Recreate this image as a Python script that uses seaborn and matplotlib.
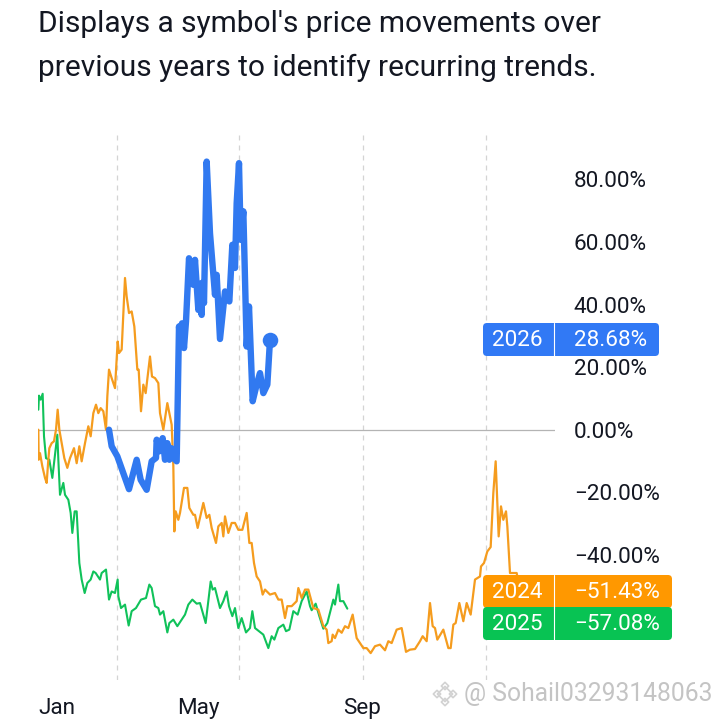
import matplotlib
matplotlib.use("Agg")
import matplotlib.pyplot as plt
import seaborn as sns
from matplotlib.patches import FancyBboxPatch

# values: x = day of the year, y = % change
days_2024 = [0.25, 0.5, 1.5, 3.25, 5.25, 6.5, 7.75, 8.5, 10.25, 12, 13.5, 14.75, 16, 17.75, 19.75, 22, 24, 27, 29, 31,
             32.75, 35.25, 37.75, 39.5, 41.5, 43.5, 45.25, 47, 49, 51, 52, 53.25, 55.25, 57.75, 59.75, 60.75, 62.75,
             65.25, 66.5, 68.25, 70.25, 72.25, 74.5, 75.5, 77.25, 79, 80.75, 84, 85.5, 87.75, 90.25, 91.5, 94, 97,
             100.25, 101.5, 102.25, 103.25, 105.25, 106.5, 109.5, 112, 113.5, 116.5, 117.75, 119.75, 124, 126.5,
             128.5, 130.25, 133.5, 135.25, 137.75, 139, 140.25, 142.75, 145.25, 147.75, 150.25, 153.25, 156.5, 158.5,
             160.25, 162, 164, 166.5, 168.5, 170.25, 174, 177.75, 180.25, 182.75, 185.25, 187, 190.25, 194, 195.25,
             197.75, 200.25, 202.75, 206.5, 210.25, 214, 216.5, 217.75, 220.25, 221, 222.75, 225.25, 227.75, 230.25,
             232.75, 236, 239, 244, 246.5, 249.5, 252.75, 256.5, 260.25, 262.75, 265.25, 269, 272.75, 276, 279,
             282.75, 286.5, 288.5, 291.5, 294, 296, 297.75, 299.5, 304, 307.75, 309.5, 311.5, 313.25, 316, 319, 321.5,
             324.5, 327.75, 331.5, 332.25, 334.5, 337, 339.5, 341.5, 343.25, 345.5, 347.25, 349, 351, 352, 354, 359,
             361.5]
pct_2024 = [0, -9.6, -7.5, -11.7, -15.4, -17, -9.6, -5.9, -4.3, -3.7, 0, 6.4, 0, -4.3, -9.1, -12.2, -9.1, -5.9, -10.7,
            -5.3, -10.1, -4.3, 1.1, -2.1, 5.3, 8, 5.3, 6.9, 5.9, 0, 10.7, 19.2, 16.5, 13.3, 28.2, 24.5, 25.6, 48.5,
            42.6, 37.3, 37.8, 33, 19.2, 19.2, 5.9, 14.4, 11.7, 23.4, 17, 16.5, 14.9, 5.3, 0, 8.5, 1.6, -11.7, -32.5,
            -26.1, -28.8, -26.6, -18.6, -18.6, -25, -27.2, -27.2, -31.4, -23.4, -28.2, -27.2, -31.4, -36.2, -30.9,
            -29.8, -34.1, -27.7, -33, -29.8, -29.8, -32, -32, -26.6, -36.2, -36.2, -42.6, -46.9, -48.5, -52.7, -51.1,
            -52.7, -52.2, -54.3, -54.3, -60.2, -56.4, -56.4, -54.8, -50.6, -53.8, -51.1, -51.1, -57, -57.5, -62.8,
            -63.9, -68.2, -67.6, -65.5, -66.6, -63.9, -64.9, -62.8, -63.4, -59.1, -66.6, -69.8, -69.8, -71.4, -69.2,
            -68.7, -70.5, -67.6, -68.2, -63.9, -63.4, -71, -70.3, -70.1, -67.6, -66, -67.6, -55.4, -62.8, -63.4,
            -67.1, -63.9, -69.8, -69.8, -62.3, -61.8, -55.4, -61.2, -55.4, -59.1, -47.9, -46.9, -43.7, -42.6, -38.9,
            -37.5, -20.2, -10.1, -34.1, -24.5, -28.8, -26.1, -30.9, -45.8, -45.8, -51.43]

days_2025 = [0.25, 0.75, 2, 3.5, 4.5, 6, 8.5, 10.75, 12.75, 14.5, 15.25, 16.5, 19, 20.25, 22.75, 24.5, 25.75, 27.5, 29,
             31, 32.75, 35, 37, 39.5, 41.5, 43.25, 46.5, 47.75, 51, 53.25, 55.25, 57.75, 59.75, 60.25, 62.25, 65.25,
             68, 70.25, 73.5, 77.25, 81, 83.5, 85.25, 87.75, 90.25, 91.5, 94, 97, 98.5, 101.5, 104.5, 110.25, 112.75,
             115.75, 119, 121.5, 125.75, 129.5, 131, 132.75, 136.5, 139, 141.5, 143.25, 145.75, 147.75, 150.25,
             152.75, 156, 159, 160.75, 162.75, 169, 172.75, 175.25, 177.25, 180.25, 184, 186, 188.5, 191.5, 194.75,
             197.75, 201.5, 204, 205.25, 208.25, 211, 214, 217, 221.5, 222.75, 225.25, 226.5, 229, 232]
pct_2025 = [6.4, 10.9, 9.6, 11.5, -2.1, -9.1, -9.6, -15.4, -8, -1.6, -9.6, -20.8, -17, -20.8, -22.4, -26.6, -33, -26.1,
            -26.1, -42.6, -47.9, -52.2, -49, -47.9, -45.3, -45.8, -47.9, -45.8, -44.7, -54.3, -51.7, -52.2, -47.9,
            -53.2, -57, -55.9, -62.6, -58, -57, -54.3, -53.8, -49.5, -50.6, -56.4, -57, -59.1, -58, -64.8, -61.8,
            -60.7, -62.8, -59.1, -55.9, -54.3, -55.6, -55.4, -61.8, -48.5, -51.1, -50.6, -57, -54.8, -51.7, -56.4,
            -59.6, -57, -63.4, -60.2, -64.8, -63.4, -58, -63.4, -65.5, -69.8, -66, -67.1, -63.4, -62.3, -64.4, -63.9,
            -58, -59.1, -54.8, -51.7, -56.4, -57.7, -55.6, -59.6, -63.6, -61.8, -54.3, -55.9, -49.5, -54.8, -54.8,
            -57.2]

days_2026 = [53.25, 55.25, 59.5, 68.25, 74, 77, 81.5, 85.25, 88.5, 89, 91, 93.5, 95.25, 97, 98.5, 100, 101.5, 104,
             105.75, 107, 108, 109.5, 111, 113.25, 116.5, 117.75, 120.25, 121.5, 122.75, 122.75, 124.5, 126.5, 129,
             132.75, 134, 136.5, 140.25, 143.5, 145.75, 147.75, 149, 150.75, 152, 154, 156.5, 158.25, 161, 164, 166.5,
             169, 172, 174]
pct_2026 = [0, -5.3, -8.5, -19, -9.6, -16, -19.2, -10.1, -9, -3.2, -6.9, -2.7, -9.6, -4.3, -9.6, -5.9, -9, -10.1, 33,
            26.6, 34, 26.1, 34.6, 54.8, 46.3, 54.3, 38.3, 42.6, 36.7, 46.9, 40.5, 85.7, 62.8, 43.1, 49.5, 29, 44.2, 41,
            59.1, 51.7, 72.4, 85.2, 60.7, 69.8, 26.6, 39.4, 9.1, 14.4, 18.1, 11.7, 14.4, 28.68]

y_ticks = [80, 60, 40, 20, 0, -20, -40]
y_labels = ["80.00%", "60.00%", "40.00%", "20.00%", "0.00%", "\u221220.00%", "\u221240.00%"]
x_ticks = [0, 120, 243]
x_labels = ["Jan", "May", "Sep"]
grid_days = [59, 151, 244, 336]

BLUE = "#3179F0"
ORANGE = "#F59C1E"
GREEN = "#10C25A"
TEXT = "#131722"
TICK_SIZE = 16.2

sns.set_style("white")
plt.rcParams["font.family"] = ["Roboto", "DejaVu Sans"]

fig = plt.figure(figsize=(7.2, 7.2), dpi=100)
W = H = 720.0
ax = fig.add_axes([38 / W, 1 - 680 / H, (555 - 38) / W, (680 - 135) / H])

for d in grid_days:
    ax.axvline(d, color="#d4d4d4", lw=0.9, ls=(0, (4, 4)), zorder=0)
ax.axhline(0, color="#b4b4b4", lw=0.9, zorder=1)

sns.lineplot(x=days_2025, y=pct_2025, color=GREEN, lw=1.5, estimator=None, sort=False, errorbar=None, ax=ax, zorder=2)
sns.lineplot(x=days_2024, y=pct_2024, color=ORANGE, lw=1.6, estimator=None, sort=False, errorbar=None, ax=ax, zorder=3)
sns.lineplot(x=days_2026, y=pct_2026, color=BLUE, lw=4.6, estimator=None, sort=False, errorbar=None, ax=ax, zorder=4,
             solid_capstyle="round", solid_joinstyle="round")
ax.scatter(days_2026[-1], pct_2026[-1], s=125, color=BLUE, zorder=5, linewidths=0)

ax.set_xlim(0, 387.75)
ax.set_ylim(-80, 94.2)
ax.yaxis.tick_right()
ax.set_yticks(y_ticks, y_labels, fontsize=TICK_SIZE, color=TEXT)
ax.set_xticks(x_ticks, x_labels, fontsize=TICK_SIZE, color=TEXT)
ax.get_xticklabels()[0].set_ha("left")
ax.tick_params(axis="both", length=0)
ax.tick_params(axis="y", pad=13.5)
ax.tick_params(axis="x", pad=13)
sns.despine(ax=ax, left=True, right=True, top=True, bottom=True)
ax.grid(False)

# overlay in picture units for the title, price tags and watermark
over = fig.add_axes([0, 0, 1, 1], facecolor="none")
over.set_xlim(0, W)
over.set_ylim(H, 0)
over.axis("off")

over.text(38, 24, "Displays a symbol's price movements over", fontsize=21.5, color=TEXT, va="center")
over.text(38, 68, "previous years to identify recurring trends.", fontsize=21.5, color=TEXT, va="center")


def tag(x1, y0, y1, color, year, value, value_right):
    box = FancyBboxPatch((483 + 4, y0 + 4), x1 - 483 - 8, y1 - y0 - 8, boxstyle="round,pad=4,rounding_size=4",
                         fc=color, ec="none", zorder=2)
    over.add_patch(box)
    over.plot([554, 554], [y0, y1], color="white", lw=0.8, zorder=3)
    ym = (y0 + y1) / 2
    over.text(517, ym + 0.5, year, color="white", fontsize=TICK_SIZE, ha="center", va="center", zorder=4)
    over.text(value_right, ym + 0.5, value, color="white", fontsize=TICK_SIZE, ha="right", va="center", zorder=4)


tag(659, 323, 356, "#3179F5", "2026", "28.68%", 647)
tag(672, 575, 608, "#FF9800", "2024", "\u221251.43%", 660)
tag(672, 607, 640, "#08C353", "2025", "\u221257.08%", 660)

# watermark
over.scatter([445, 437, 453, 445, 445], [694, 694, 694, 686, 702], marker="D", s=[60, 14, 14, 14, 14],
             facecolor="none", edgecolor="#d2d2d2", linewidths=1.2, zorder=5)
over.text(464, 694, "@ Sohail03293148063", fontsize=17.75, color="#c4c4c4", va="center", zorder=5)

fig.savefig("out.png", dpi=100)
